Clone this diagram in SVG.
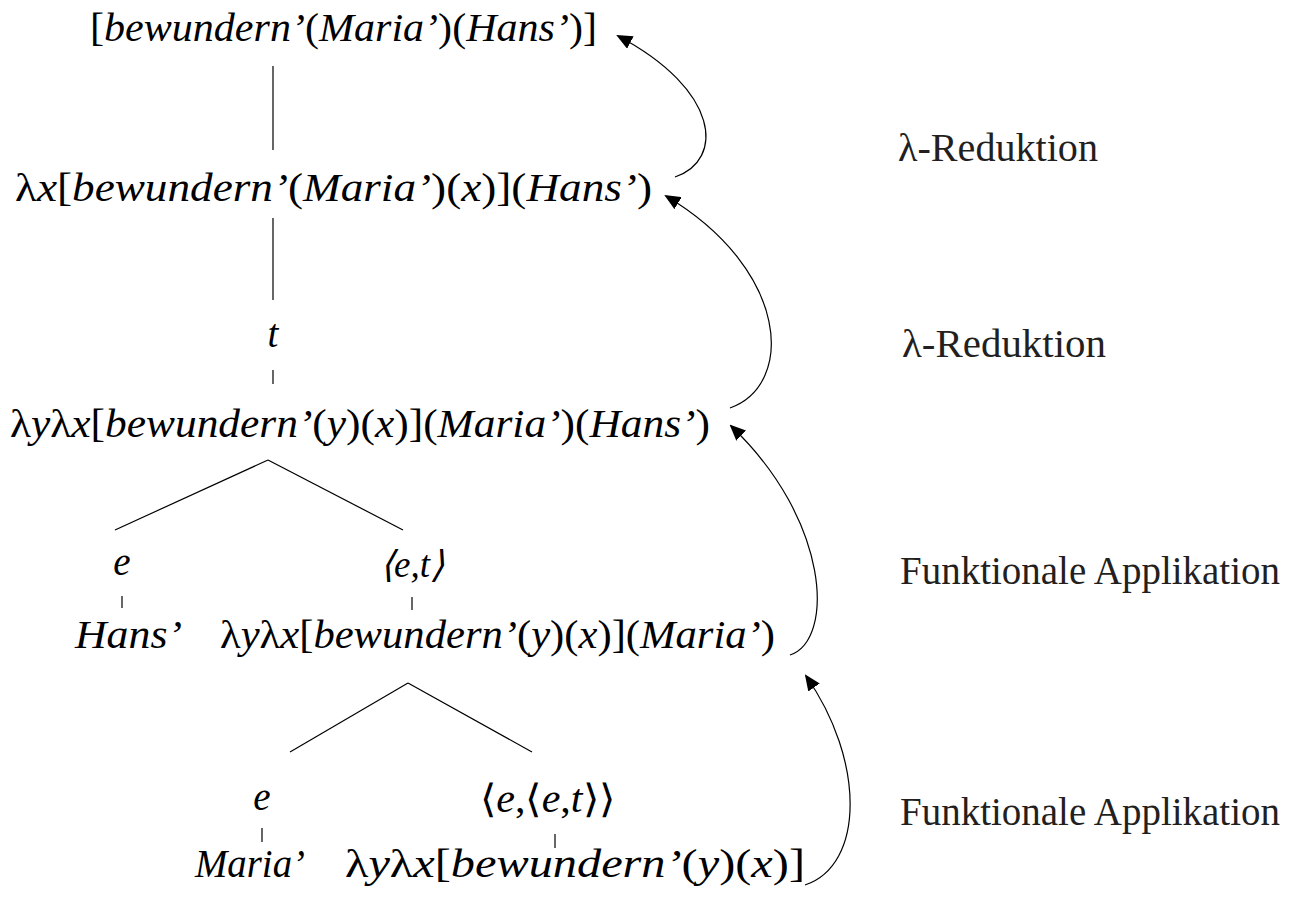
<svg xmlns="http://www.w3.org/2000/svg" width="1290" height="902" viewBox="0 0 1290 902">
<defs>
<marker id="ah" markerWidth="16" markerHeight="14" refX="14" refY="7" orient="auto" markerUnits="userSpaceOnUse">
<path d="M0,0 L16,7 L0,14 Z" fill="#000"/>
</marker>
</defs>
<rect width="1290" height="902" fill="#fff"/>
<g id="connectors" stroke="#000" stroke-width="1.2" fill="none">
<line x1="273" y1="66" x2="273" y2="150"/>
<line x1="273" y1="218" x2="273" y2="300"/>
<line x1="273" y1="370" x2="273" y2="384"/>
<line x1="268" y1="460" x2="115" y2="530"/>
<line x1="268" y1="460" x2="403" y2="530"/>
<line x1="122" y1="596" x2="122" y2="608"/>
<line x1="412" y1="597" x2="412" y2="610"/>
<line x1="408" y1="683" x2="290" y2="752"/>
<line x1="408" y1="683" x2="532" y2="752"/>
<line x1="262" y1="828" x2="262" y2="842"/>
<line x1="555" y1="834" x2="555" y2="848"/>
<path marker-end="url(#ah)" d="M675,177 C725,160 720,90 618,36"/>
<path marker-end="url(#ah)" d="M730,408 C795,385 790,270 666,196"/>
<path marker-end="url(#ah)" d="M790,655 C835,640 830,520 731,426"/>
<path marker-end="url(#ah)" d="M805,885 C865,865 865,760 806,676"/>
</g>
<g id="n1"><text font-family="Liberation Serif" font-style="italic" font-size="39" x="90" y="41" textLength="507" lengthAdjust="spacingAndGlyphs"><tspan font-style="normal">[</tspan>bewundern’<tspan font-style="normal">(</tspan>Maria’<tspan font-style="normal">)(</tspan>Hans’<tspan font-style="normal">)]</tspan></text></g>
<g id="n2"><text font-family="Liberation Serif" font-style="italic" font-size="39" x="15" y="201" textLength="637" lengthAdjust="spacingAndGlyphs"><tspan font-style="normal">λ</tspan>x<tspan font-style="normal">[</tspan>bewundern’<tspan font-style="normal">(</tspan>Maria’<tspan font-style="normal">)(</tspan>x<tspan font-style="normal">)](</tspan>Hans’<tspan font-style="normal">)</tspan></text></g>
<g id="n3"><text font-family="Liberation Serif" font-style="italic" font-size="39" x="273" y="347" text-anchor="middle">t</text></g>
<g id="n4"><text font-family="Liberation Serif" font-style="italic" font-size="39" x="10" y="437" textLength="700" lengthAdjust="spacingAndGlyphs"><tspan font-style="normal">λ</tspan>y<tspan font-style="normal">λ</tspan>x<tspan font-style="normal">[</tspan>bewundern’<tspan font-style="normal">(</tspan>y<tspan font-style="normal">)(</tspan>x<tspan font-style="normal">)](</tspan>Maria’<tspan font-style="normal">)(</tspan>Hans’<tspan font-style="normal">)</tspan></text></g>
<g id="n5"><text font-family="Liberation Serif" font-style="italic" font-size="39" x="122" y="575" text-anchor="middle">e</text></g>
<g id="n6"><text font-family="Liberation Serif" font-style="italic" font-size="37" x="412" y="577" text-anchor="middle">⟨e,t⟩</text></g>
<g id="n7"><text font-family="Liberation Serif" font-style="italic" font-size="39" x="75" y="648" textLength="107" lengthAdjust="spacingAndGlyphs">Hans’</text></g>
<g id="n8"><text font-family="Liberation Serif" font-style="italic" font-size="39" x="220" y="648" textLength="555" lengthAdjust="spacingAndGlyphs"><tspan font-style="normal">λ</tspan>y<tspan font-style="normal">λ</tspan>x<tspan font-style="normal">[</tspan>bewundern’<tspan font-style="normal">(</tspan>y<tspan font-style="normal">)(</tspan>x<tspan font-style="normal">)](</tspan>Maria’<tspan font-style="normal">)</tspan></text></g>
<g id="n9"><text font-family="Liberation Serif" font-style="italic" font-size="39" x="262" y="810" text-anchor="middle">e</text></g>
<g id="n10"><text font-family="Liberation Serif" font-style="italic" font-size="39" x="480" y="812" textLength="135" lengthAdjust="spacingAndGlyphs"><tspan font-style="normal">⟨</tspan>e<tspan font-style="normal">,⟨</tspan>e<tspan font-style="normal">,</tspan>t<tspan font-style="normal">⟩⟩</tspan></text></g>
<g id="n11"><text font-family="Liberation Serif" font-style="italic" font-size="39" x="195" y="877" textLength="110" lengthAdjust="spacingAndGlyphs">Maria’</text></g>
<g id="n12"><text font-family="Liberation Serif" font-style="italic" font-size="39" x="345" y="877" textLength="460" lengthAdjust="spacingAndGlyphs"><tspan font-style="normal">λ</tspan>y<tspan font-style="normal">λ</tspan>x<tspan font-style="normal">[</tspan>bewundern’<tspan font-style="normal">(</tspan>y<tspan font-style="normal">)(</tspan>x<tspan font-style="normal">)]</tspan></text></g>
<g id="labels">
<text font-family="Liberation Serif" font-size="39" fill="#231f20" x="898" y="161" textLength="200" lengthAdjust="spacingAndGlyphs">λ-Reduktion</text>
<text font-family="Liberation Serif" font-size="39" fill="#231f20" x="902" y="357" textLength="204" lengthAdjust="spacingAndGlyphs">λ-Reduktion</text>
<text font-family="Liberation Serif" font-size="39" fill="#231f20" x="900" y="584" textLength="380" lengthAdjust="spacingAndGlyphs">Funktionale Applikation</text>
<text font-family="Liberation Serif" font-size="39" fill="#231f20" x="900" y="825" textLength="380" lengthAdjust="spacingAndGlyphs">Funktionale Applikation</text>
</g>
</svg>
